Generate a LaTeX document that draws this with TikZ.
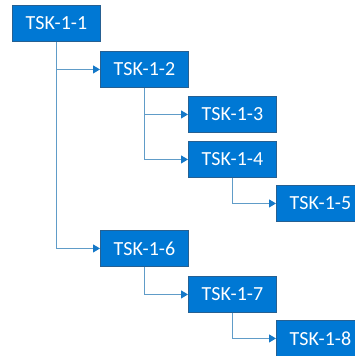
\documentclass[tikz,border=0pt]{standalone}
\usepackage{fontspec}
\setmainfont{Carlito}
\usetikzlibrary{arrows.meta}
\definecolor{taskfill}{RGB}{0,120,212}
\definecolor{taskedge}{RGB}{38,96,146}
\definecolor{linkcol}{RGB}{96,156,200}
\definecolor{tipcol}{RGB}{20,120,200}
\tikzset{
  task/.style={draw=taskedge, line width=0.9pt, fill=taskfill, text=white,
    minimum width=88pt, minimum height=36pt, inner sep=0pt,
    font=\fontsize{20}{22}\selectfont, anchor=north west},
  link/.style={draw=linkcol, line width=1pt,
    -{Triangle[length=7pt,width=8pt,color=tipcol]}}
}
\begin{document}
\begin{tikzpicture}[x=1pt,y=-1pt]
\useasboundingbox (0,0) rectangle (354,356);
\node[task] (t1) at (12,5)   {TSK-1-1};
\node[task] (t2) at (100,51) {TSK-1-2};
\node[task] (t3) at (188,96) {TSK-1-3};
\node[task] (t4) at (188,141) {TSK-1-4};
\node[task] (t5) at (276,185) {TSK-1-5};
\node[task] (t6) at (100,230) {TSK-1-6};
\node[task] (t7) at (188,276) {TSK-1-7};
\node[task] (t8) at (276,320) {TSK-1-8};
\draw[link] (t1.south) |- (t2.west);
\draw[link] (t1.south) |- (t6.west);
\draw[link] (t2.south) |- (t3.west);
\draw[link] (t2.south) |- (t4.west);
\draw[link] (t4.south) |- (t5.west);
\draw[link] (t6.south) |- (t7.west);
\draw[link] (t7.south) |- (t8.west);
\end{tikzpicture}
\end{document}
